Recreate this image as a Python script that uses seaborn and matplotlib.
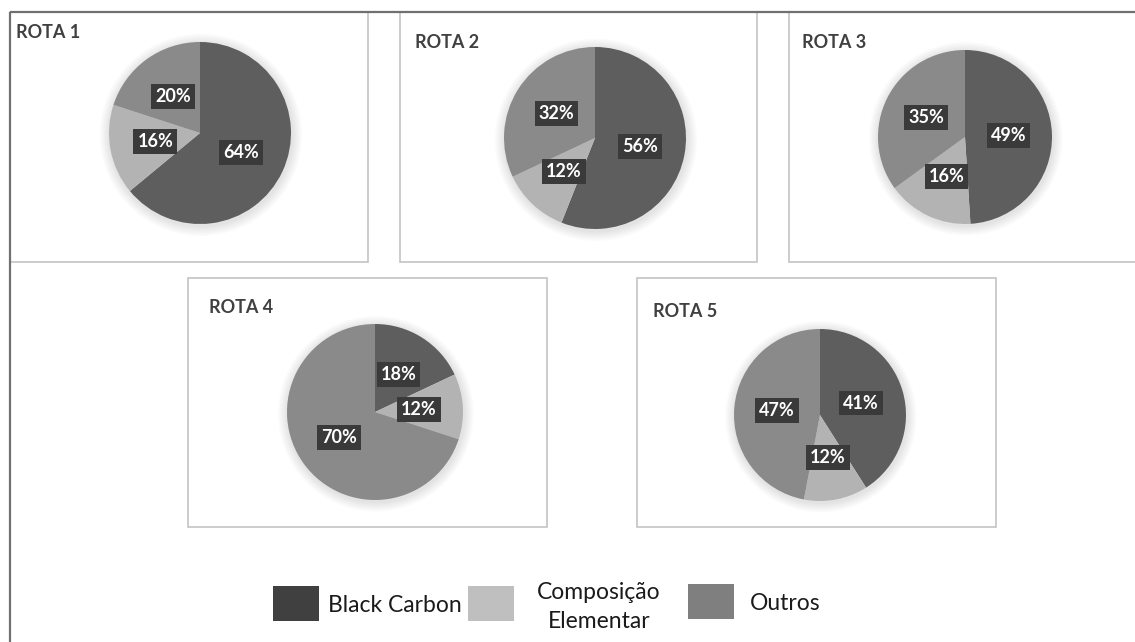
import matplotlib
matplotlib.use("Agg")
import matplotlib.pyplot as plt
from matplotlib.patches import Rectangle, Circle
import seaborn as sns

# ---- data ----
routes = ["ROTA 1", "ROTA 2", "ROTA 3", "ROTA 4", "ROTA 5"]
categories = ["Black Carbon", "Composição\nElementar", "Outros"]
black_carbon = [64, 56, 49, 18, 41]
composicao = [16, 12, 16, 12, 12]
outros = [20, 32, 35, 70, 47]

sns.set_theme(style="white")
plt.rcParams["font.family"] = ["Lato", "DejaVu Sans"]

pie_colors = sns.color_palette(["#5e5e5e", "#b3b3b3", "#8a8a8a"])
legend_colors = sns.color_palette(["#404040", "#bfbfbf", "#7f7f7f"])

W, H = 1135, 642
fig = plt.figure(figsize=(W / 100, H / 100), dpi=100)
fig.patch.set_facecolor("white")

# overlay axes in pixel coordinates
ov = fig.add_axes([0, 0, 1, 1])
ov.set_xlim(0, W)
ov.set_ylim(H, 0)
ov.axis("off")

# outer frame lines
ov.plot([10, 10], [12, H + 5], color="#707070", lw=1.6, solid_capstyle="butt")
ov.plot([10, W + 5], [12, 12], color="#707070", lw=1.6, solid_capstyle="butt")

# panel boxes (x0, y0, x1, y1)
panels = [(10, 12, 368, 262), (400, 12, 757, 262), (789, 12, 1145, 262),
          (188, 278, 547, 527), (637, 278, 996, 527)]
for (x0, y0, x1, y1) in panels:
    ov.add_patch(Rectangle((x0, y0), x1 - x0, y1 - y0, fill=False,
                           ec="#c4c4c4", lw=1.2, clip_on=False))

title_pos = [(16, 38), (415, 48), (802, 48), (209, 313), (653, 317)]
for name, (tx, ty) in zip(routes, title_pos):
    ov.text(tx, ty, name, fontsize=13, fontweight="bold", color="#404040",
            va="baseline", ha="left")

# pies: center x, center y, radius (pixels)
pie_geom = [(200, 133, 91), (595, 138, 91), (965, 137, 87),
            (375, 412, 88), (820, 415, 86)]

for i, (cx, cy, r) in enumerate(pie_geom):
    vals = [black_carbon[i], composicao[i], outros[i]]
    ax = fig.add_axes([(cx - r) / W, 1 - (cy + r) / H, 2 * r / W, 2 * r / H])
    ax.axis("off")
    # soft glow shadow
    for k in range(7):
        ax.add_patch(Circle((0.01, -0.02), 1.0 + 0.016 * (k + 1), fc="black",
                            alpha=0.016, ec="none", zorder=0, clip_on=False))
    wedges, texts, autotexts = ax.pie(
        vals, colors=pie_colors, startangle=90, counterclock=False,
        autopct="%1.0f%%", pctdistance=0.5, radius=1.0,
        wedgeprops=dict(linewidth=0, edgecolor="none"),
        textprops=dict(color="white", fontsize=13, fontweight="bold"))
    for w in wedges:
        w.set_zorder(2)
    for t in autotexts:
        t.set_zorder(5)
        t.set_bbox(dict(boxstyle="square,pad=0.22", fc="#3a3a3a", ec="none"))
    ax.set_xlim(-1, 1)
    ax.set_ylim(-1, 1)
    ax.set_aspect("equal")

# legend
leg_sq = [(273, 586), (468, 586), (688, 584)]
for (sx, sy), col in zip(leg_sq, legend_colors):
    ov.add_patch(Rectangle((sx, sy), 46, 35, fc=col, ec="none"))
ov.text(328, 612, categories[0], fontsize=16.5, color="#1a1a1a",
        va="baseline", ha="left")
ov.text(599, 628, categories[1], fontsize=16.5, color="#1a1a1a",
        va="baseline", ha="center", ma="center", linespacing=1.45)
ov.text(750, 610, categories[2], fontsize=16.5, color="#1a1a1a",
        va="baseline", ha="left")

fig.savefig("out.png", dpi=100, facecolor="white")
